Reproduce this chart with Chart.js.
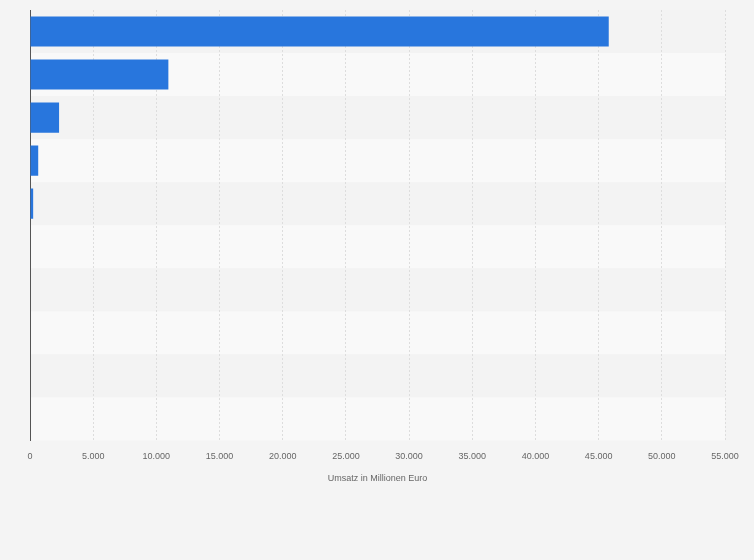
<!DOCTYPE html>
<html><head><meta charset="utf-8">
<script src="https://cdn.jsdelivr.net/npm/chart.js@4/dist/chart.umd.min.js"></script>
<style>html,body{margin:0;background:#f4f4f4;}#w{width:754px;height:560px;}</style>
</head><body><div id="w"><canvas id="c"></canvas></div>
<script>
const categories = ["1","2","3","4","5","6","7","8","9","10"];
const values = [45800, 10950, 2300, 650, 250, 0, 0, 0, 0, 0];
const xTicks = [0,5000,10000,15000,20000,25000,30000,35000,40000,45000,50000,55000];

const stripes = {
  id:'stripes',
  beforeDraw(chart){
    const {ctx, chartArea:a} = chart;
    const n = categories.length, h = (a.bottom - a.top)/n;
    for(let i=0;i<n;i++){
      ctx.fillStyle = i%2 ? '#f9f9f9' : '#f3f3f3';
      ctx.fillRect(a.left, a.top + i*h, a.right - a.left, h);
    }
  }
};
new Chart(document.getElementById('c'), {
  type:'bar',
  data:{labels:categories, datasets:[{data:values, backgroundColor:'#2876dd', barPercentage:0.7, categoryPercentage:1}]},
  options:{
    indexAxis:'y', responsive:true, maintainAspectRatio:false, animation:false,
    layout:{padding:{left:30, right:29, top:10, bottom:72}},
    plugins:{legend:{display:false}, tooltip:{enabled:false}},
    scales:{
      x:{min:0,max:55000, afterBuildTicks(s){s.ticks=xTicks.map(v=>({value:v}));},
        grid:{color:'#dddddd', drawTicks:false},
        border:{display:false, dash:[2,2]},
        ticks:{padding:11, color:'#666', font:{family:'Arial, Liberation Sans', size:9},
          callback:v=>v.toLocaleString('de-DE')},
        title:{display:true,text:'Umsatz in Millionen Euro', color:'#666', font:{family:'Arial, Liberation Sans', size:9}, padding:{top:0}}
      },
      y:{ticks:{display:false}, grid:{display:false, drawTicks:false}, border:{display:true,color:'#555',width:1}}
    }
  },
  plugins:[stripes]
});
</script></body></html>
